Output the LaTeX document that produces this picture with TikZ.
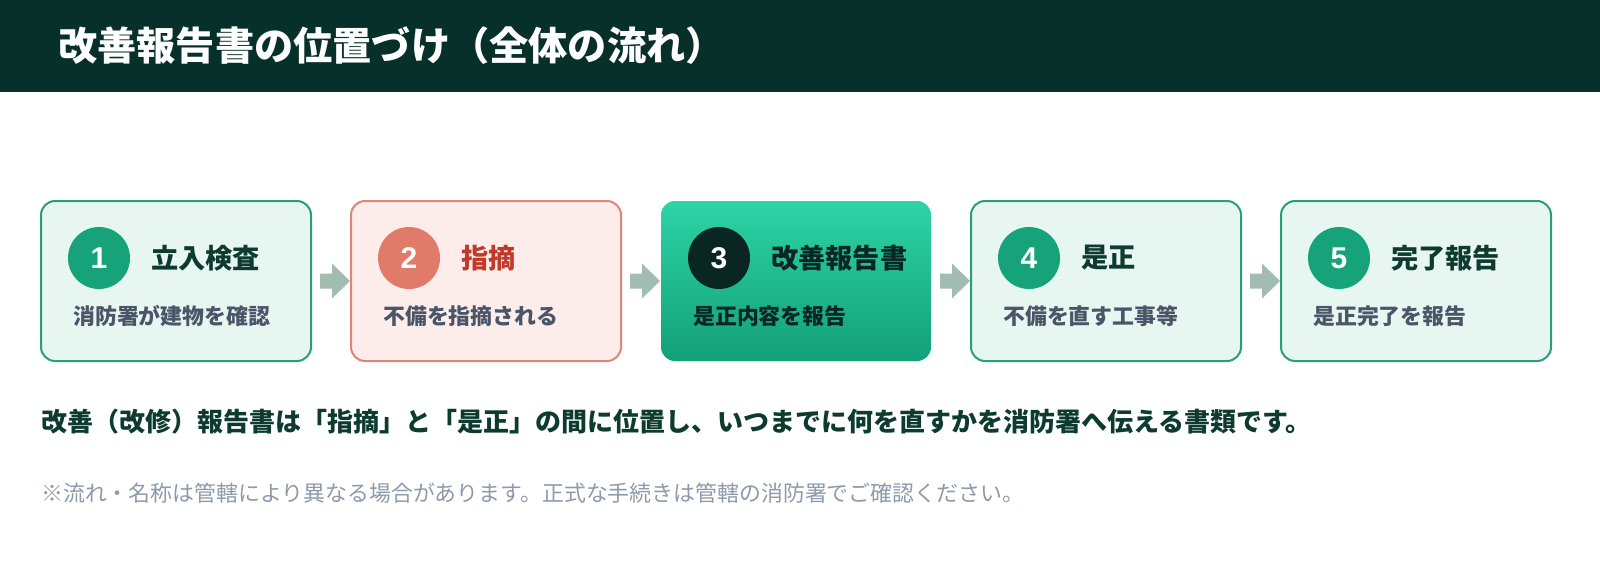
\documentclass[tikz,border=0pt]{standalone}
\usepackage{fontspec}
\setmainfont{Noto Sans CJK JP}
\newfontfamily\jp{Noto Sans CJK JP}
\newfontfamily\numf{Liberation Sans}
\usetikzlibrary{calc}
\definecolor{hdr}{HTML}{08302A}
\definecolor{mint}{HTML}{E8F6F1}
\definecolor{mintline}{HTML}{2A9D7A}
\definecolor{cgreen}{HTML}{17A37A}
\definecolor{pink}{HTML}{FCEDEA}
\definecolor{pinkline}{HTML}{DE8676}
\definecolor{cred}{HTML}{E07B6A}
\definecolor{tred}{HTML}{C0392B}
\definecolor{tdark}{HTML}{0E3B30}
\definecolor{slate}{HTML}{4A5568}
\definecolor{arrowc}{HTML}{A1BDB2}
\definecolor{gtop}{HTML}{2DD4A5}
\definecolor{gbot}{HTML}{13A079}
\definecolor{cdark}{HTML}{0A2622}
\definecolor{note}{HTML}{8E9AAB}
\tikzset{
  stepbox/.style={draw=mintline, fill=mint, line width=2pt, rounded corners=14pt,
    minimum width=270pt, minimum height=160pt, anchor=north west, inner sep=0pt},
  redbox/.style={stepbox, draw=pinkline, fill=pink},
  hotbox/.style={stepbox, draw=none, top color=gtop, bottom color=gbot},
  numc/.style={circle, fill=cgreen, minimum size=62pt, inner sep=0pt, text=white,
    font=\numf\bfseries\fontsize{30}{32}\selectfont},
  ttl/.style={anchor=west, inner sep=0pt, text=tdark, font=\jp\bfseries\fontsize{27.2}{30}\selectfont},
  sub/.style={anchor=west, inner sep=0pt, text=slate, font=\jp\bfseries\fontsize{21.9}{26}\selectfont},
  flowarrow/.style={fill=arrowc},
}
\begin{document}
\begin{tikzpicture}[x=1pt,y=-1pt]
\useasboundingbox (0,0) rectangle (1600,560);
\fill[white] (0,0) rectangle (1600,560);
\fill[hdr] (0,0) rectangle (1600,92);
\node[anchor=west, inner sep=0pt, text=white, font=\jp\bfseries\fontsize{39.2}{42}\selectfont] (title) at (58,46) {改善報告書の位置づけ（全体の流れ）};

\node[stepbox] (b1) at (40,200) {};
\node[redbox] (b2) at (350,200) {};
\node[hotbox] (b3) at (660,200) {};
\node[stepbox] (b4) at (970,200) {};
\node[stepbox] (b5) at (1280,200) {};

\node[numc] (c1) at ($(b1.north west)+(59,58)$) {1};
\node[numc, fill=cred] (c2) at ($(b2.north west)+(59,58)$) {2};
\node[numc, fill=cdark] (c3) at ($(b3.north west)+(59,58)$) {3};
\node[numc] (c4) at ($(b4.north west)+(59,58)$) {4};
\node[numc] (c5) at ($(b5.north west)+(59,58)$) {5};

\node[ttl] (t1) at ($(b1.north west)+(111,58)$) {立入検査};
\node[ttl, text=tred] (t2) at ($(b2.north west)+(111,58)$) {指摘};
\node[ttl, text=cdark] (t3) at ($(b3.north west)+(111,58)$) {改善報告書};
\node[ttl] (t4) at ($(b4.north west)+(111,58)$) {是正};
\node[ttl] (t5) at ($(b5.north west)+(111,58)$) {完了報告};

\node[sub] (s1) at ($(b1.north west)+(33,116)$) {消防署が建物を確認};
\node[sub] (s2) at ($(b2.north west)+(33,116)$) {不備を指摘される};
\node[sub, text=cdark] (s3) at ($(b3.north west)+(33,116)$) {是正内容を報告};
\node[sub] (s4) at ($(b4.north west)+(33,116)$) {不備を直す工事等};
\node[sub] (s5) at ($(b5.north west)+(33,116)$) {是正完了を報告};

\foreach \a/\b in {b1/b2,b2/b3,b3/b4,b4/b5}{
  \fill[flowarrow] ($(\a.east)+(8,-7.5)$) -- ($(\b.west)+(-18,-7.5)$) -- ($(\b.west)+(-18,-17.5)$)
    -- (\b.west) -- ($(\b.west)+(-18,17.5)$) -- ($(\b.west)+(-18,7.5)$) -- ($(\a.east)+(8,7.5)$) -- cycle;
}

\node[anchor=west, inner sep=0pt, text=tdark, font=\jp\bfseries\fontsize{26}{30}\selectfont] (lead) at (41,422)
  {改善（改修）報告書は「指摘」と「是正」の間に位置し、いつまでに何を直すかを消防署へ伝える書類です。};
\node[anchor=west, inner sep=0pt, text=note, font=\jp\fontsize{21.9}{26}\selectfont] (fn) at (41,493)
  {※流れ・名称は管轄により異なる場合があります。正式な手続きは管轄の消防署でご確認ください。};
\end{tikzpicture}
\end{document}
